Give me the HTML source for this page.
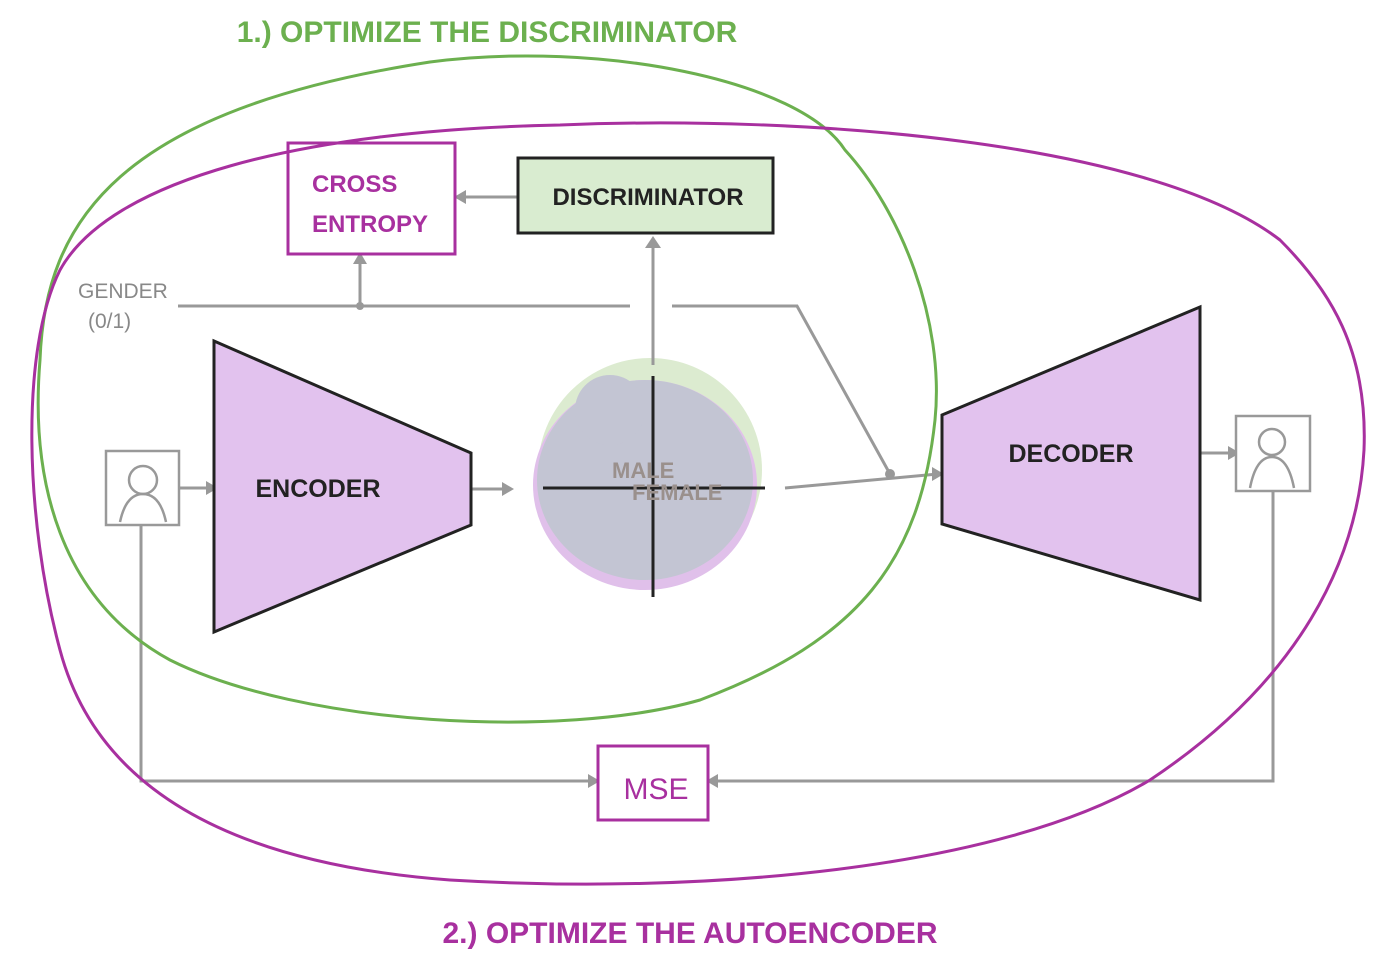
<!DOCTYPE html>
<html><head><style>
body{margin:0;background:#fff;width:1400px;height:977px;overflow:hidden}
svg{display:block}
text{font-family:"Liberation Sans",sans-serif}
</style></head><body>
<svg width="1400" height="977" viewBox="0 0 1400 977" xmlns="http://www.w3.org/2000/svg">
<text x="487" y="42" text-anchor="middle" font-size="30" font-weight="bold" fill="#6cb04f">1.) OPTIMIZE THE DISCRIMINATOR</text>
<text x="690" y="943" text-anchor="middle" font-size="30" font-weight="bold" fill="#a8309f">2.) OPTIMIZE THE AUTOENCODER</text>

<!-- blob -->
<circle cx="650" cy="470" r="112" fill="#dcebd0"/>
<ellipse cx="645" cy="485" rx="112" ry="105" fill="#e0c0ea"/>
<ellipse cx="645" cy="480" rx="108" ry="100" fill="#c3c5d3"/>
<circle cx="610" cy="410" r="35" fill="#c3c5d3"/>
<line x1="543" y1="488" x2="765" y2="488" stroke="#222" stroke-width="3"/>
<line x1="653" y1="376" x2="653" y2="597" stroke="#222" stroke-width="3"/>
<text x="612" y="478" font-size="22" font-weight="bold" fill="#9a908c">MALE</text>
<text x="632" y="500" font-size="22" font-weight="bold" fill="#9a908c">FEMALE</text>

<!-- gray connectors -->
<g stroke="#999" stroke-width="3" fill="none">
<polyline points="178,306 630,306"/>
<polyline points="672,306 797,306 890,474"/>
<line x1="360" y1="306" x2="360" y2="258"/>
<line x1="518" y1="197" x2="460" y2="197"/>
<line x1="653" y1="365" x2="653" y2="242"/>
<line x1="785" y1="488" x2="938" y2="474"/>
<line x1="471" y1="489" x2="508" y2="489"/>
<line x1="179" y1="488" x2="212" y2="488"/>
<line x1="1200" y1="453" x2="1234" y2="453"/>
<polyline points="141,525 141,781 594,781"/>
<polyline points="1273,491 1273,781 712,781"/>
</g>
<g fill="#999">
<polygon points="360,252 353,264 367,264"/>
<polygon points="454,197 466,190 466,204"/>
<polygon points="653,236 645,248 661,248"/>
<polygon points="944,474 932,467 932,481"/>
<polygon points="514,489 502,482 502,496"/>
<polygon points="218,488 206,481 206,495"/>
<polygon points="1240,453 1228,446 1228,460"/>
<polygon points="600,781 588,774 588,788"/>
<polygon points="706,781 718,774 718,788"/>
<circle cx="360" cy="306" r="4"/><circle cx="890" cy="474" r="5"/>
</g>
<text x="78" y="298" font-size="21" fill="#888">GENDER</text>
<text x="88" y="328" font-size="21" fill="#888">(0/1)</text>

<!-- boxes -->
<rect x="288" y="143" width="167" height="111" fill="#fff" stroke="#a8309f" stroke-width="3"/>
<text x="312" y="192" font-size="24" font-weight="bold" fill="#a8309f">CROSS</text>
<text x="312" y="232" font-size="24" font-weight="bold" fill="#a8309f">ENTROPY</text>
<rect x="518" y="158" width="255" height="75" fill="#d9ecd0" stroke="#222" stroke-width="3"/>
<text x="648" y="205" text-anchor="middle" font-size="24" font-weight="bold" fill="#222">DISCRIMINATOR</text>
<rect x="598" y="746" width="110" height="74" fill="#fff" stroke="#a8309f" stroke-width="3"/>
<text x="656" y="799" text-anchor="middle" font-size="30" fill="#a8309f">MSE</text>

<!-- encoder/decoder -->
<polygon points="214,341 471,453 471,525 214,632" fill="#e2c2ee" stroke="#222" stroke-width="3"/>
<text x="318" y="497" text-anchor="middle" font-size="25" font-weight="bold" fill="#222">ENCODER</text>
<polygon points="942,415 1200,307 1200,600 942,524" fill="#e2c2ee" stroke="#222" stroke-width="3"/>
<text x="1071" y="462" text-anchor="middle" font-size="25" font-weight="bold" fill="#222">DECODER</text>

<!-- persons -->
<g stroke="#999" stroke-width="2.5" fill="#fff">
<rect x="106" y="451" width="73" height="74"/>
<circle cx="143" cy="480" r="14"/>
<path d="M120,522 Q126,494 143,494 Q160,494 166,522" fill="none"/>
<rect x="1236" y="416" width="74" height="75"/>
<circle cx="1272" cy="442" r="13"/>
<path d="M1250,488 Q1256,457 1272,457 Q1288,457 1294,488" fill="none"/>
</g>

<!-- loops -->
<path d="M430,62 C600,40 800,80 845,150 C900,210 945,320 935,420 C920,560 860,640 700,700 C560,740 300,725 170,660 C60,600 30,480 40,360 C45,220 120,110 430,62 Z" fill="none" stroke="#6cb04f" stroke-width="3"/>
<path d="M560,125 C800,115 1150,140 1280,240 C1330,290 1368,350 1364,450 C1358,560 1300,680 1150,780 C1000,870 700,895 450,880 C250,865 100,800 60,650 C25,520 20,350 60,270 C110,180 300,130 560,125 Z" fill="none" stroke="#a8309f" stroke-width="3"/>
</svg>
</body></html>
